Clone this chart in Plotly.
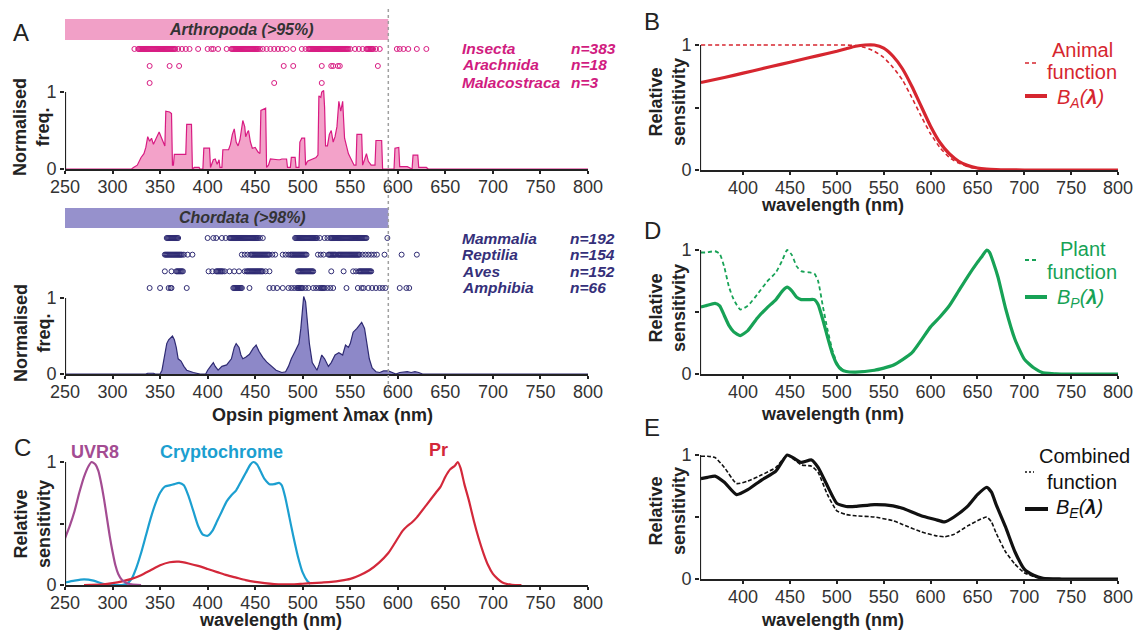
import plotly.graph_objects as go

# page body has an 8px margin: the figure is drawn 8px in from the top-left corner
OFF = 8
W, H = 1142 - OFF, 630 - OFF
def PX(x): return (x - OFF) / W
def PY(y): return 1 - (max(y, OFF) - OFF) / H

# ---------------- Panel A data ----------------
arth_nm = [250, 320, 322, 326, 330, 333, 335, 337, 339, 341, 343, 345, 347, 349, 351, 353, 355, 356, 360, 362, 363, 364, 365, 377, 378, 383, 384, 386, 391, 392, 395, 396, 402, 403, 404, 406, 408, 410, 412, 413, 415, 416, 422, 424, 426, 428, 430, 432, 434, 436, 437, 439, 440, 442, 443, 445, 447, 450, 453, 455, 456, 461, 462, 464, 466, 474, 476, 478, 483, 484, 487, 488, 492, 493, 496, 497, 499, 502, 503, 505, 508, 511, 514, 516, 517, 519, 520, 522, 523, 524, 526, 528, 530, 532, 534, 536, 538, 540, 542, 544, 546, 548, 550, 552, 554, 556, 557, 562, 563, 565, 567, 569, 572, 576, 577, 583, 584, 596, 597, 601, 602, 610, 615, 616, 621, 622, 630, 632, 800]
arth_freq = [0, 0, 0.02, 0.05, 0.15, 0.2, 0.28, 0.42, 0.36, 0.40, 0.32, 0.38, 0.44, 0.48, 0.42, 0.35, 0.3, 0.75, 0.74, 0.72, 0.05, 0.05, 0.19, 0.19, 0.58, 0.58, 0, 0.02, 0.02, 0, 0, 0.27, 0.27, 0.02, 0.05, 0.12, 0.13, 0.06, 0.12, 0.02, 0.02, 0.25, 0.25, 0.32, 0.45, 0.52, 0.35, 0.3, 0.38, 0.55, 0.63, 0.55, 0.42, 0.48, 0.5, 0.35, 0.27, 0.28, 0.22, 0.2, 0.76, 0.79, 0.02, 0.05, 0.13, 0.12, 0.12, 0.13, 0.13, 0.02, 0.02, 0.15, 0.15, 0.02, 0.02, 0.35, 0.40, 0.40, 0.05, 0.1, 0.12, 0.13, 0.15, 0.18, 0.95, 0.93, 1.0, 1.02, 0.8, 0.3, 0.3, 0.45, 0.5, 0.35, 0.42, 0.55, 0.88, 0.75, 0.88, 0.4, 0.3, 0.2, 0.15, 0.1, 0.05, 0.05, 0.45, 0.45, 0.05, 0.12, 0.2, 0.1, 0.05, 0.05, 0.37, 0.37, 0.0, 0, 0.27, 0.28, 0.03, 0.03, 0.0, 0.18, 0.18, 0.02, 0.02, 0, 0]

chor_nm = [250, 335, 337, 343, 345, 350, 352, 355, 357, 359, 361, 363, 365, 367, 369, 372, 375, 378, 385, 392, 398, 400, 403, 406, 408, 411, 415, 420, 425, 428, 430, 433, 435, 437, 440, 444, 448, 451, 454, 458, 462, 467, 472, 478, 482, 485, 488, 492, 496, 498, 500, 501, 503, 505, 507, 510, 513, 515, 517, 520, 523, 527, 530, 534, 538, 542, 545, 548, 550, 553, 557, 560, 562, 565, 567, 570, 573, 577, 581, 585, 590, 594, 598, 602, 606, 610, 614, 618, 622, 626, 800]
chor_freq = [0, 0, 0.01, 0.01, 0, 0, 0.05, 0.25, 0.4, 0.45, 0.48, 0.5, 0.45, 0.35, 0.2, 0.17, 0.1, 0.05, 0.02, 0, 0, 0.05, 0.1, 0.15, 0.1, 0.05, 0.1, 0.12, 0.2, 0.35, 0.4, 0.35, 0.25, 0.2, 0.22, 0.26, 0.34, 0.38, 0.3, 0.22, 0.16, 0.1, 0.05, 0.02, 0.03, 0.1, 0.2, 0.3, 0.4, 0.6, 0.95, 1.02, 0.95, 0.7, 0.4, 0.15, 0.08, 0.05, 0.12, 0.25, 0.2, 0.1, 0.15, 0.25, 0.28, 0.25, 0.38, 0.35, 0.4, 0.55, 0.6, 0.65, 0.68, 0.6, 0.45, 0.2, 0.08, 0.03, 0.02, 0.04, 0.04, 0.02, 0.0, 0.02, 0.03, 0.03, 0.02, 0.03, 0.02, 0, 0]

insecta = [323, 327, 328, 329, 330, 331, 332, 333, 334, 335, 336, 337, 338, 339, 340, 341, 342, 343, 344, 345, 346, 347, 348, 349, 350, 351, 352, 353, 354, 355, 356, 357, 358, 359, 360, 361, 362, 363, 364, 365, 366, 369, 373, 377, 381, 390, 400, 404, 406, 411, 420, 425, 426, 427, 428, 429, 430, 431, 432, 433, 434, 435, 436, 437, 438, 439, 440, 441, 442, 443, 444, 445, 446, 447, 448, 449, 450, 451, 452, 453, 455, 458, 462, 466, 470, 474, 478, 483, 490, 499, 503, 506, 507, 508, 509, 510, 511, 512, 513, 514, 515, 516, 517, 518, 519, 520, 521, 522, 523, 524, 525, 526, 527, 528, 529, 530, 531, 532, 533, 534, 535, 536, 537, 538, 539, 540, 541, 542, 543, 544, 545, 546, 547, 548, 550, 555, 559, 563, 567, 568, 569, 570, 571, 572, 573, 574, 577, 581, 599, 602, 606, 611, 620, 630]
arachnida = [339, 360, 370, 480, 490, 520, 530, 532, 537, 539, 579]
malacostraca = [339, 470, 520]

mammalia = [357, 358, 359, 360, 361, 362, 363, 364, 365, 366, 367, 368, 369, 400, 406, 409, 415, 419, 423, 424, 425, 426, 427, 428, 429, 430, 431, 432, 433, 434, 435, 436, 437, 438, 439, 440, 441, 442, 443, 444, 445, 446, 447, 448, 449, 450, 451, 452, 453, 455, 458, 492, 493, 494, 495, 496, 497, 498, 499, 500, 501, 502, 503, 504, 505, 506, 507, 508, 509, 510, 511, 512, 513, 514, 515, 518, 523, 526, 529, 530, 531, 532, 533, 534, 535, 536, 537, 538, 539, 540, 541, 542, 543, 544, 545, 546, 547, 548, 549, 550, 551, 552, 553, 554, 555, 556, 557, 558, 559, 560, 561, 562, 563, 564, 565, 566, 567, 589]
reptilia = [355, 356, 357, 358, 359, 360, 361, 362, 363, 364, 365, 366, 367, 368, 369, 370, 371, 372, 373, 375, 379, 384, 436, 439, 442, 445, 446, 447, 448, 449, 450, 451, 452, 453, 454, 455, 456, 457, 458, 459, 460, 461, 462, 463, 464, 465, 468, 471, 479, 482, 485, 487, 488, 489, 490, 491, 492, 493, 494, 495, 496, 497, 498, 499, 500, 501, 502, 503, 504, 516, 519, 522, 527, 528, 529, 530, 531, 532, 533, 534, 535, 537, 538, 539, 540, 541, 542, 543, 544, 545, 546, 547, 548, 549, 550, 551, 552, 553, 554, 555, 556, 557, 558, 559, 560, 563, 566, 569, 572, 575, 578, 586, 604, 620]
aves = [355, 362, 367, 368, 369, 370, 371, 372, 373, 374, 401, 405, 409, 410, 411, 412, 413, 414, 415, 416, 418, 423, 428, 433, 439, 441, 442, 443, 444, 445, 446, 447, 448, 449, 450, 451, 452, 453, 454, 455, 456, 457, 458, 461, 465, 495, 496, 497, 498, 499, 500, 501, 502, 503, 504, 505, 506, 507, 508, 509, 510, 511, 530, 543, 553, 556, 559, 560, 561, 562, 563, 564, 565, 566, 567, 568, 569, 570, 571, 572]
amphibia = [339, 350, 359, 361, 362, 378, 427, 428, 429, 430, 431, 432, 433, 434, 435, 436, 444, 465, 469, 473, 479, 485, 488, 491, 494, 495, 496, 497, 498, 499, 500, 503, 506, 511, 514, 517, 519, 520, 521, 522, 523, 526, 529, 532, 546, 558, 562, 564, 569, 573, 577, 581, 584, 587, 602, 609, 612]

# ---------------- Panel C data ----------------
uvr8_nm = [250, 255, 260, 265, 270, 275, 278, 282, 285, 288, 291, 294, 297, 300, 303, 306, 310, 315, 320, 330]
uvr8_val = [0.38, 0.48, 0.6, 0.75, 0.88, 0.97, 1.0, 0.98, 0.93, 0.83, 0.7, 0.55, 0.4, 0.27, 0.16, 0.09, 0.04, 0.015, 0.005, 0]
cry_nm = [250, 260, 270, 280, 290, 300, 310, 315, 320, 325, 330, 335, 340, 345, 350, 355, 360, 365, 370, 375, 380, 385, 390, 395, 400, 405, 410, 415, 420, 425, 430, 435, 440, 445, 448, 452, 456, 460, 465, 470, 475, 478, 482, 486, 490, 495, 500, 505, 508]
cry_val = [0.02, 0.035, 0.045, 0.035, 0.01, 0.0, 0.0, 0.01, 0.05, 0.14, 0.26, 0.4, 0.54, 0.66, 0.75, 0.8, 0.81, 0.82, 0.83, 0.81, 0.72, 0.6, 0.48, 0.41, 0.4, 0.44, 0.52, 0.6, 0.68, 0.73, 0.77, 0.84, 0.91, 0.98, 1.0, 0.98, 0.92, 0.86, 0.82, 0.82, 0.83, 0.81, 0.7, 0.55, 0.4, 0.23, 0.1, 0.03, 0.01]
pr_nm = [270, 290, 300, 310, 320, 330, 340, 350, 360, 370, 380, 390, 400, 410, 420, 430, 440, 450, 460, 470, 480, 490, 500, 510, 520, 530, 540, 550, 560, 570, 580, 590, 600, 605, 610, 615, 620, 630, 640, 645, 650, 655, 660, 663, 666, 670, 675, 680, 685, 690, 695, 700, 705, 710, 715, 720, 730]
pr_val = [0.0, 0.005, 0.015, 0.03, 0.05, 0.08, 0.12, 0.16, 0.185, 0.19, 0.175, 0.155, 0.13, 0.105, 0.08, 0.06, 0.04, 0.025, 0.015, 0.008, 0.005, 0.005, 0.01, 0.015, 0.02, 0.025, 0.035, 0.05, 0.08, 0.12, 0.18, 0.26, 0.38, 0.44, 0.48, 0.51, 0.55, 0.65, 0.75, 0.8, 0.88, 0.94, 0.97, 1.0, 0.95, 0.82, 0.68, 0.52, 0.38, 0.26, 0.16, 0.09, 0.05, 0.02, 0.008, 0.002, 0]

# ---------------- Panel B data ----------------
bnm = [355, 380, 400, 420, 440, 460, 480, 500, 510, 520, 530, 540, 550, 560, 570, 580, 590, 600, 610, 620, 630, 640, 650, 660, 670, 680, 700, 750, 800]
animal_fn = [1, 1, 1, 1, 1, 1, 1, 1, 1, 0.995, 0.98, 0.95, 0.9, 0.82, 0.72, 0.58, 0.43, 0.29, 0.18, 0.1, 0.055, 0.027, 0.012, 0.005, 0.002, 0.001, 0, 0, 0]
ba_fn = [0.70, 0.74, 0.775, 0.81, 0.845, 0.88, 0.915, 0.95, 0.97, 0.99, 1.0, 1.0, 0.975, 0.91, 0.81, 0.67, 0.51, 0.35, 0.22, 0.13, 0.07, 0.035, 0.016, 0.007, 0.003, 0.001, 0, 0, 0]

# ---------------- Panel D data ----------------
dnm = [355, 360, 370, 375, 380, 385, 390, 397, 405, 415, 425, 435, 442, 447, 452, 457, 462, 470, 476, 480, 485, 490, 495, 500, 505, 510, 520, 540, 560, 580, 600, 610, 620, 630, 640, 650, 655, 660, 663, 667, 672, 680, 690, 700, 710, 720, 740, 800]
plant_fn = [0.98, 0.98, 0.99, 0.97, 0.86, 0.7, 0.6, 0.52, 0.55, 0.64, 0.74, 0.82, 0.92, 1.0, 0.96, 0.87, 0.83, 0.82, 0.81, 0.75, 0.55, 0.36, 0.2, 0.09, 0.04, 0.02, 0.015, 0.03, 0.07, 0.17, 0.38, 0.46, 0.55, 0.67, 0.79, 0.9, 0.95, 1.0, 0.98, 0.9, 0.78, 0.53, 0.28, 0.12, 0.05, 0.01, 0, 0]
bp_fn = [0.54, 0.55, 0.57, 0.55, 0.47, 0.39, 0.34, 0.31, 0.35, 0.45, 0.53, 0.6, 0.67, 0.7, 0.67, 0.62, 0.6, 0.6, 0.6, 0.56, 0.44, 0.3, 0.17, 0.08, 0.035, 0.02, 0.015, 0.03, 0.07, 0.17, 0.38, 0.46, 0.55, 0.67, 0.79, 0.9, 0.95, 1.0, 0.98, 0.9, 0.78, 0.53, 0.28, 0.12, 0.05, 0.01, 0, 0]

# ---------------- Panel E data ----------------
enm = [355, 362, 370, 380, 393, 405, 420, 435, 447, 455, 462, 473, 480, 490, 500, 510, 520, 540, 560, 570, 590, 605, 615, 625, 640, 650, 660, 665, 670, 680, 690, 700, 710, 720, 740, 800]
comb_fn = [0.99, 0.99, 0.98, 0.9, 0.77, 0.79, 0.84, 0.9, 1.0, 0.96, 0.92, 0.91, 0.86, 0.68, 0.55, 0.52, 0.51, 0.5, 0.47, 0.44, 0.38, 0.35, 0.34, 0.36, 0.43, 0.47, 0.5, 0.46, 0.37, 0.22, 0.12, 0.05, 0.02, 0.005, 0, 0]
be_fn = [0.81, 0.82, 0.83, 0.78, 0.68, 0.72, 0.8, 0.87, 1.0, 0.97, 0.94, 0.96, 0.9, 0.75, 0.61, 0.585, 0.585, 0.6, 0.59, 0.57, 0.51, 0.48, 0.46, 0.5, 0.59, 0.68, 0.74, 0.7, 0.6, 0.42, 0.22, 0.08, 0.03, 0.005, 0, 0]

wl_ticks = [250, 300, 350, 400, 450, 500, 550, 600, 650, 700, 750, 800]
wl_ticks_r = [400, 450, 500, 550, 600, 650, 700, 750, 800]

PINK_LINE = "#d81b82"
PINK_FILL = "#f3a2c9"
PINK_BAR = "#f1a0c7"
MAG_TXT = "#d11c80"
PUR_LINE = "#2f2b73"
PUR_FILL = "#8d88c8"
PUR_BAR = "#9691cc"
NAVY_TXT = "#35307a"
RED = "#d6262f"
GREEN = "#17a256"
UV_COL = "#a34c92"
CRY_COL = "#1c9fd0"
PR_COL = "#d3283a"
AX = "#222222"
FONT = "Liberation Sans, Arial, sans-serif"

fig = go.Figure()

fig.add_trace(go.Scatter(x=arth_nm, y=arth_freq, mode="lines", fill="tozeroy",
                         line=dict(color=PINK_LINE, width=1.2), fillcolor=PINK_FILL,
                         xaxis="x", yaxis="y", showlegend=False))
fig.add_trace(go.Scatter(x=chor_nm, y=chor_freq, mode="lines", fill="tozeroy",
                         line=dict(color=PUR_LINE, width=1.2), fillcolor=PUR_FILL,
                         xaxis="x2", yaxis="y3", showlegend=False))

for row, vals in [(3, insecta), (2, arachnida), (1, malacostraca)]:
    fig.add_trace(go.Scatter(x=vals, y=[row] * len(vals), mode="markers",
                             marker=dict(symbol="circle-open", size=5, color=PINK_LINE, line=dict(width=1)),
                             xaxis="x", yaxis="y2", showlegend=False))
for row, vals in [(4, mammalia), (3, reptilia), (2, aves), (1, amphibia)]:
    fig.add_trace(go.Scatter(x=vals, y=[row] * len(vals), mode="markers",
                             marker=dict(symbol="circle-open", size=5, color=PUR_LINE, line=dict(width=1)),
                             xaxis="x2", yaxis="y4", showlegend=False))

fig.add_trace(go.Scatter(x=cry_nm, y=cry_val, mode="lines", line=dict(color=CRY_COL, width=2.2, shape="spline", smoothing=0.6),
                         xaxis="x3", yaxis="y5", showlegend=False))
fig.add_trace(go.Scatter(x=pr_nm, y=pr_val, mode="lines", line=dict(color=PR_COL, width=2.2, shape="spline", smoothing=0.6),
                         xaxis="x3", yaxis="y5", showlegend=False))
fig.add_trace(go.Scatter(x=uvr8_nm, y=uvr8_val, mode="lines", line=dict(color=UV_COL, width=2.2, shape="spline", smoothing=0.6),
                         xaxis="x3", yaxis="y5", showlegend=False))

fig.add_trace(go.Scatter(x=bnm, y=animal_fn, mode="lines", line=dict(color=RED, width=1.6, dash="4px,3px", shape="spline", smoothing=0.5),
                         xaxis="x4", yaxis="y6", showlegend=False))
fig.add_trace(go.Scatter(x=bnm, y=ba_fn, mode="lines", line=dict(color=RED, width=3.2, shape="spline", smoothing=0.5),
                         xaxis="x4", yaxis="y6", showlegend=False))
fig.add_trace(go.Scatter(x=dnm, y=plant_fn, mode="lines", line=dict(color=GREEN, width=1.8, dash="4px,3px", shape="spline", smoothing=0.5),
                         xaxis="x5", yaxis="y7", showlegend=False))
fig.add_trace(go.Scatter(x=dnm, y=bp_fn, mode="lines", line=dict(color=GREEN, width=3.2, shape="spline", smoothing=0.5),
                         xaxis="x5", yaxis="y7", showlegend=False))
fig.add_trace(go.Scatter(x=enm, y=comb_fn, mode="lines", line=dict(color="#111", width=1.6, dash="4px,2px", shape="spline", smoothing=0.5),
                         xaxis="x6", yaxis="y8", showlegend=False))
fig.add_trace(go.Scatter(x=enm, y=be_fn, mode="lines", line=dict(color="#111", width=3.2, shape="spline", smoothing=0.5),
                         xaxis="x6", yaxis="y8", showlegend=False))

tickfont = dict(family=FONT, size=18, color="#333")

def xax(rng, x0, x1, anchor, ticks):
    return dict(range=rng, domain=[PX(x0), PX(x1)], anchor=anchor, showline=True, linecolor=AX, linewidth=2.2,
                ticks="outside", ticklen=3, tickwidth=1.5, tickcolor=AX, tickvals=ticks, tickfont=tickfont,
                ticklabelstandoff=-3,
                showgrid=False, zeroline=False, fixedrange=True, automargin=False)

def yax(rng, y0px, y1px, anchor, vals, text):
    return dict(range=rng, domain=[PY(y0px), PY(y1px)], anchor=anchor, showline=False,
                ticks="outside", ticklen=4, tickwidth=1.5, tickcolor=AX, tickvals=vals, ticktext=text,
                tickfont=tickfont, showgrid=False, zeroline=False, fixedrange=True, automargin=False)

def ydots(rng, y0px, y1px, anchor):
    return dict(range=rng, domain=[PY(y0px), PY(y1px)], anchor=anchor, visible=False, fixedrange=True, automargin=False)

layout = dict(
    width=W, height=H, margin=dict(l=0, r=0, t=0, b=0, pad=0, autoexpand=False),
    paper_bgcolor="white", plot_bgcolor="rgba(0,0,0,0)",
    font=dict(family=FONT, color="#333"),
    xaxis=xax([250, 800], 65, 588, "y", wl_ticks),
    yaxis=yax([0, 1.08], 169, 169 - 1.08 * 77, "x", [0, 1], ["0", "1"]),
    yaxis2=ydots([0.47, 5.88 - 8 / 17], 92, 8, "x"),
    xaxis2=xax([250, 800], 65, 588, "y3", wl_ticks),
    yaxis3=yax([0, 1.08], 374, 374 - 1.08 * 76, "x2", [0, 1], ["0", "1"]),
    yaxis4=ydots([0.46, 4.6], 297, 228, "x2"),
    xaxis3=xax([250, 800], 65, 588, "y5", wl_ticks),
    yaxis5=yax([0, 1.05], 585, 585 - 1.05 * 123, "x3", [0, 0.5, 1], ["0", "", "1"]),
    xaxis4=xax([354, 800], 700, 1118, "y6", wl_ticks_r),
    yaxis6=yax([0, 1.05], 170, 170 - 1.05 * 125, "x4", [0, 0.5, 1], ["0", "", "1"]),
    xaxis5=xax([354, 800], 700, 1118, "y7", wl_ticks_r),
    yaxis7=yax([0, 1.05], 374, 374 - 1.05 * 124, "x5", [0, 0.5, 1], ["0", "", "1"]),
    xaxis6=xax([354, 800], 700, 1118, "y8", wl_ticks_r),
    yaxis8=yax([0, 1.05], 579, 579 - 1.05 * 124, "x6", [0, 0.5, 1], ["0", "", "1"]),
)
fig.update_layout(**layout)

shapes = []
for xr, yr, x0 in [("x", "y", 250), ("x2", "y3", 250), ("x3", "y5", 250), ("x4", "y6", 354), ("x5", "y7", 354), ("x6", "y8", 354)]:
    shapes.append(dict(type="line", xref=xr, yref=yr, x0=x0, x1=x0, y0=0, y1=1, line=dict(color=AX, width=2.2)))
shapes.append(dict(type="rect", xref="x", yref="paper", x0=250, x1=590, y0=PY(40), y1=PY(19), fillcolor=PINK_BAR, line=dict(width=0), layer="below"))
shapes.append(dict(type="rect", xref="x2", yref="paper", x0=250, x1=590, y0=PY(228), y1=PY(208), fillcolor=PUR_BAR, line=dict(width=0), layer="below"))
shapes.append(dict(type="line", xref="x", yref="paper", x0=590, x1=590, y0=PY(390), y1=PY(8), line=dict(color="#a0a0a0", width=1.5, dash="dot")))

def hline(x0, x1, y, color, width, dash=None):
    d = dict(type="line", xref="paper", yref="paper", x0=PX(x0), x1=PX(x1), y0=PY(y), y1=PY(y), line=dict(color=color, width=width))
    if dash:
        d["line"]["dash"] = dash
    return d
shapes += [hline(1025, 1036, 63, RED, 1.6, "4px,3px"), hline(1025, 1047, 96, RED, 4),
           hline(1025, 1036, 260, GREEN, 1.8, "4px,3px"), hline(1025, 1047, 297, GREEN, 4),
           hline(1025, 1034, 472, "#111", 1.6, "2px,2px"), hline(1025, 1048, 509, "#111", 4)]
fig.update_layout(shapes=shapes)

ann = []
def T(x, y, text, size=18, color="#222", xanchor="center", bold=False, italic=False, angle=0, family=FONT):
    t = text
    if bold:
        t = "<b>" + t + "</b>"
    if italic:
        t = "<i>" + t + "</i>"
    ann.append(dict(x=PX(x), y=PY(y), xref="paper", yref="paper", text=t, showarrow=False,
                    xanchor=xanchor, yanchor="middle", textangle=angle,
                    font=dict(family=family, size=size, color=color)))

for L, x, y in [("A", 21, 32), ("B", 652, 22), ("C", 22, 447), ("D", 652, 230), ("E", 652, 427)]:
    T(x, y, L, size=24, color="#222")

T(241, 30, "Arthropoda (>95%)", size=16, color="#333", bold=True, italic=True)
T(242, 218, "Chordata (>98%)", size=16, color="#333", bold=True, italic=True)

for name, n, y in [("Insecta", "n=383", 48), ("Arachnida", "n=18", 65), ("Malacostraca", "n=3", 82)]:
    T(460, y, name, size=15.5, color=MAG_TXT, xanchor="left", bold=True, italic=True)
    T(569, y, n, size=15.5, color=MAG_TXT, xanchor="left", bold=True, italic=True)
for name, n, y in [("Mammalia", "n=192", 238), ("Reptilia", "n=154", 254), ("Aves", "n=152", 271), ("Amphibia", "n=66", 287)]:
    T(460, y, name, size=15.5, color=NAVY_TXT, xanchor="left", bold=True, italic=True)
    T(568, y, n, size=15.5, color=NAVY_TXT, xanchor="left", bold=True, italic=True)

T(32, 127, "Normalised<br>freq.", size=18, color="#222", bold=True, angle=-90)
T(32, 333, "Normalised<br>freq.", size=18, color="#222", bold=True, angle=-90)
T(322, 415, "Opsin pigment λmax (nm)", size=18, color="#222", bold=True)
T(32, 524, "Relative<br>sensitivity", size=18, color="#222", bold=True, angle=-90)
T(270, 620, "wavelength (nm)", size=18, color="#222", bold=True)
for yc in [102, 308, 511]:
    T(667, yc, "Relative<br>sensitivity", size=18, color="#222", bold=True, angle=-90)
for yt in [205, 414, 620]:
    T(832, yt, "wavelength (nm)", size=18, color="#222", bold=True)

T(95, 452, "UVR8", size=18, color=UV_COL, bold=True)
T(221, 452, "Cryptochrome", size=18, color=CRY_COL, bold=True)
T(438, 450, "Pr", size=18, color=PR_COL, bold=True)

T(1082, 50, "Animal", size=20, color=RED)
T(1082, 72, "function", size=20, color=RED)
T(1080, 98, "<i>B<sub>A</sub>(<b>λ</b>)</i>", size=20, color=RED)
T(1083, 249, "Plant", size=20, color=GREEN)
T(1082, 272, "function", size=20, color=GREEN)
T(1080, 298, "<i>B<sub>P</sub>(<b>λ</b>)</i>", size=20, color=GREEN)
T(1084, 456, "Combined", size=20, color="#111")
T(1082, 482, "function", size=20, color="#111")
T(1079, 509, "<i>B<sub>E</sub>(<b>λ</b>)</i>", size=20, color="#111")

fig.update_layout(annotations=ann)
fig.write_html("out.html")
